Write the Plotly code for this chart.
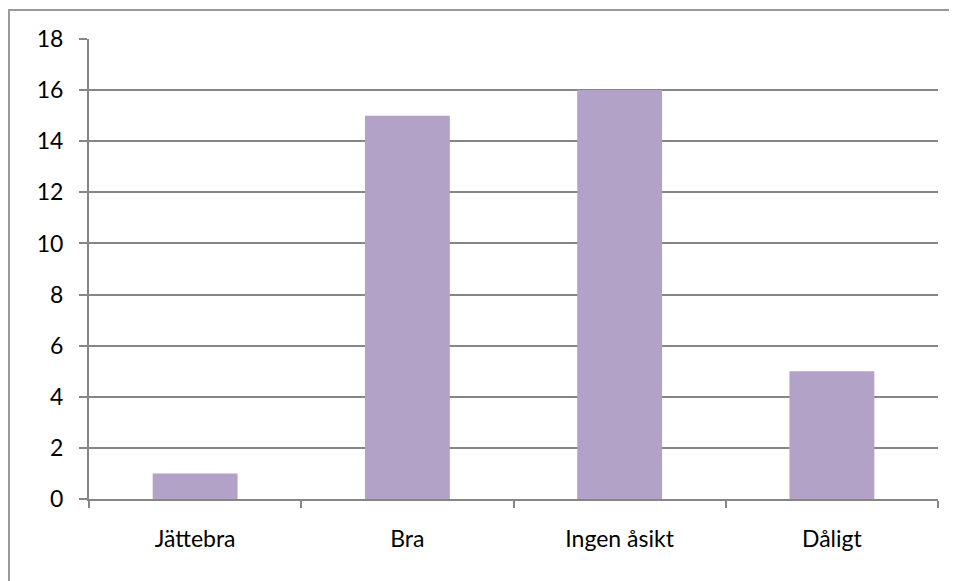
import plotly.graph_objects as go

categories = ["Jättebra", "Bra", "Ingen åsikt", "Dåligt"]
values = [1, 15, 16, 5]
y_ticks = [0, 2, 4, 6, 8, 10, 12, 14, 16, 18]

# page body has an 8px margin; compensate
OFF = 8
W, H = 957 - OFF, 581 - OFF
L, R, T, B = 89 - OFF, 19, 39 - OFF, 82
pw, ph = W - L - R, H - T - B

fig = go.Figure(go.Bar(x=categories, y=values, marker=dict(color="#B3A2C7", line=dict(width=0)), width=0.4))

def px_x(p): return (p - OFF - L) / pw
def px_y(p): return (H - B - (p - OFF)) / ph

fig.add_shape(type="rect", xref="paper", yref="paper",
              x0=px_x(9), x1=px_x(1000), y0=px_y(10), y1=px_y(700),
              line=dict(color="#9a9a9a", width=2), fillcolor="rgba(0,0,0,0)", layer="above")

fig.update_layout(
    width=W, height=H,
    margin=dict(l=L, r=R, t=T, b=B),
    paper_bgcolor="white", plot_bgcolor="white",
    font=dict(family="Lato, Open Sans, sans-serif", size=23, color="black"),
    showlegend=False, bargap=0.6,
)
fig.update_xaxes(showline=True, linecolor="#868686", linewidth=2, ticks="outside", tickson="boundaries",
                 ticklen=7, tickcolor="#868686", tickwidth=2, showgrid=False, ticklabelstandoff=18)
fig.update_yaxes(range=[0, 18], tickvals=y_ticks, showline=True, linecolor="#868686", linewidth=2,
                 ticks="outside", ticklen=8, tickcolor="#868686", tickwidth=2,
                 showgrid=True, gridcolor="#868686", gridwidth=2, zeroline=False, ticklabelstandoff=11)

fig.write_html("out.html")
